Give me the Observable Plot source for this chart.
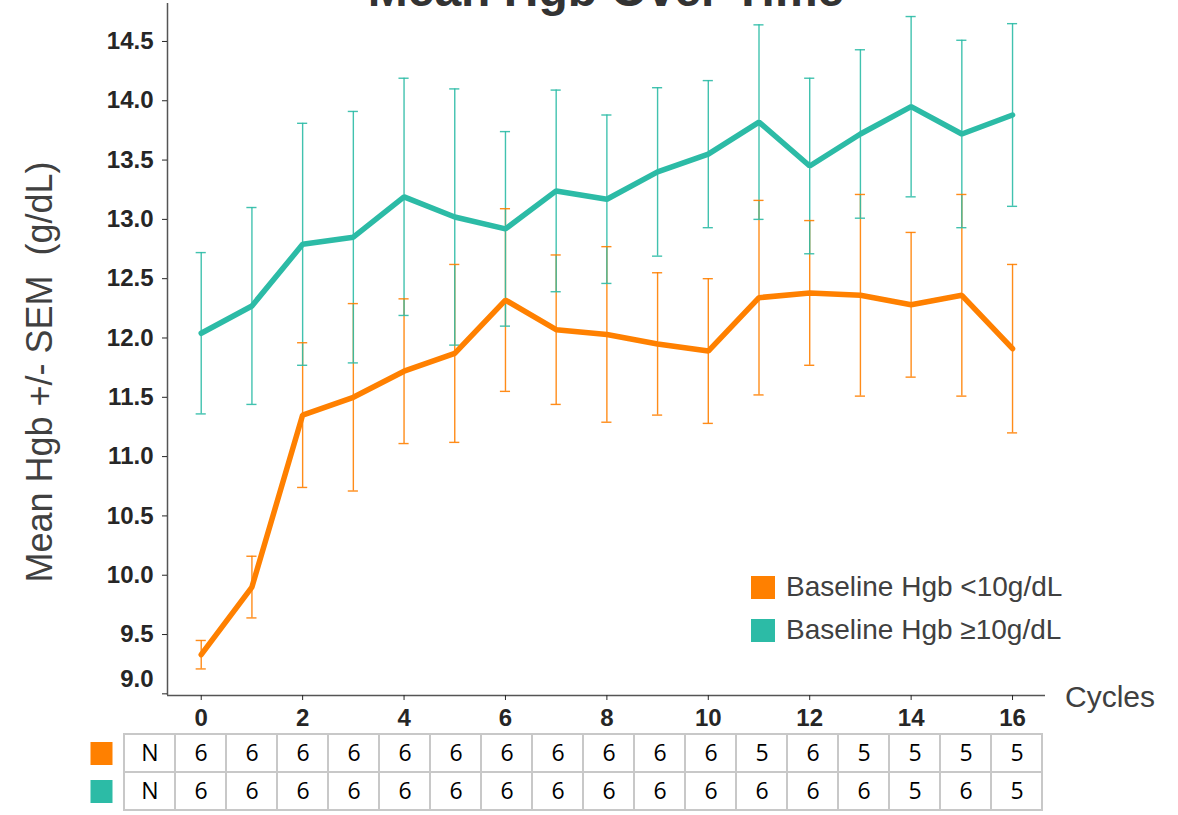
<!DOCTYPE html>
<html><head><meta charset="utf-8">
<script src="https://cdn.jsdelivr.net/npm/d3@7"></script>
<script src="https://cdn.jsdelivr.net/npm/@observablehq/plot@0.6"></script>
<style>
body{margin:0;background:#fff;}
#wrap{position:relative;width:1178px;height:815px;overflow:hidden;font-family:"Liberation Sans",Arial,sans-serif;}
#wrap svg{position:absolute;left:0;overflow:visible;}
#title{position:absolute;left:606px;top:-33.6px;transform:translateX(-50%);font-size:48px;line-height:48px;font-weight:bold;color:#333;white-space:nowrap;}
#ylabel{position:absolute;left:40px;top:372px;transform:translate(-50%,-50%) rotate(-90deg);font-size:36px;color:#404040;white-space:pre;}
#xlabel{position:absolute;left:1065px;top:682px;font-size:30px;line-height:30px;color:#404040;}
#legend{position:absolute;left:751px;top:575px;}
.lrow{display:flex;align-items:center;height:24px;margin-bottom:19px;}
.lsw{width:24px;height:23px;margin-right:11px;}
.ltx{font-size:28px;color:#404040;white-space:nowrap;}
</style></head><body><div id="wrap"></div>
<script>
// ---- data ----
const cycles = [0,1,2,3,4,5,6,7,8,9,10,11,12,13,14,15,16];
const seriesNames = ["Baseline Hgb <10g/dL", "Baseline Hgb \u226510g/dL"];
const seriesColors = ["#FF8000", "#2CBBA6"];
const lowMean  = [9.33, 9.90, 11.35, 11.50, 11.72, 11.87, 12.32, 12.07, 12.03, 11.95, 11.89, 12.34, 12.38, 12.36, 12.28, 12.36, 11.91];
const lowSem   = [0.12, 0.26, 0.61, 0.79, 0.61, 0.75, 0.77, 0.63, 0.74, 0.60, 0.61, 0.82, 0.61, 0.85, 0.61, 0.85, 0.71];
const highMean = [12.04, 12.27, 12.79, 12.85, 13.19, 13.02, 12.92, 13.24, 13.17, 13.40, 13.55, 13.82, 13.45, 13.72, 13.95, 13.72, 13.88];
const highSem  = [0.68, 0.83, 1.02, 1.06, 1.00, 1.08, 0.82, 0.85, 0.71, 0.71, 0.62, 0.82, 0.74, 0.71, 0.76, 0.79, 0.77];
const nLow  = [6,6,6,6,6,6,6,6,6,6,6,5,6,5,5,5,5];
const nHigh = [6,6,6,6,6,6,6,6,6,6,6,6,6,6,5,6,5];
const yTicks = [9.0, 9.5, 10.0, 10.5, 11.0, 11.5, 12.0, 12.5, 13.0, 13.5, 14.0, 14.5];
const xTicks = [0, 2, 4, 6, 8, 10, 12, 14, 16];
const title = "Mean Hgb Over Time";
const yLabel = "Mean Hgb +/- SEM  (g/dL)";
const xLabel = "Cycles";
const nLabel = "N";

// ---- build ----
const means = [lowMean, highMean], sems = [lowSem, highSem], ns = [nLow, nHigh];
const rows = [];
seriesNames.forEach((s, k) => cycles.forEach((c, i) => rows.push({series: s, cycle: c, mean: means[k][i], sem: sems[k][i]})));

const xDomain = [-0.665, 16.65];
const yDomain = [8.986, 14.82];
const capHalf = 0.1;
const font = "'Liberation Sans', Arial, sans-serif";
const colorScale = {domain: seriesNames, range: seriesColors};

const wrap = document.getElementById("wrap");

const main = Plot.plot({
  width: 1178, height: 732,
  marginLeft: 167, marginRight: 133, marginTop: 3, marginBottom: 37,
  x: {domain: xDomain},
  y: {domain: yDomain},
  color: colorScale,
  style: {fontFamily: font, color: "#262626", background: "transparent"},
  marks: [
    Plot.ruleX(rows, {x: "cycle", y1: d => d.mean - d.sem, y2: d => d.mean + d.sem, stroke: "series", strokeWidth: 1.4, strokeOpacity: 0.9}),
    Plot.ruleY(rows, {y: d => d.mean + d.sem, x1: d => d.cycle - capHalf, x2: d => d.cycle + capHalf, stroke: "series", strokeWidth: 1.4, strokeOpacity: 0.9}),
    Plot.ruleY(rows, {y: d => d.mean - d.sem, x1: d => d.cycle - capHalf, x2: d => d.cycle + capHalf, stroke: "series", strokeWidth: 1.4, strokeOpacity: 0.9}),
    Plot.line(rows, {x: "cycle", y: "mean", z: "series", stroke: "series", strokeWidth: 5.5, strokeLinejoin: "miter"}),
    Plot.ruleX([xDomain[0]], {stroke: "#555", strokeWidth: 1.5}),
    Plot.ruleY([yDomain[0]], {stroke: "#555", strokeWidth: 1.5}),
    Plot.axisY(yTicks, {tickSize: 5, tickPadding: 9, fontSize: 24, fontWeight: "bold", label: null,
      tickFormat: d => d === yTicks[0] ? "" : d3.format(".1f")(d)}),
    Plot.text([yTicks[0]], {y: d => d, text: d => d3.format(".1f")(d), frameAnchor: "left", textAnchor: "end",
      dx: -14, dy: -15, fontSize: 24, fontWeight: "bold", fill: "#262626"}),
    Plot.axisX(xTicks, {tickSize: 5, tickPadding: 8, fontSize: 24, fontWeight: "bold", label: null})
  ]
});
main.style.top = "0px";
wrap.appendChild(main);

// ---- N table ----
const cols = ["swatch", "N", ...cycles.map(String)];
const cells = [];
seriesNames.forEach((s, k) => {
  cells.push({series: s, col: "N", label: nLabel});
  cycles.forEach((c, i) => cells.push({series: s, col: String(c), label: String(ns[k][i])}));
});
const table = Plot.plot({
  width: 1178, height: 83,
  marginLeft: 70.5, marginRight: 1178 - 1043.5, marginTop: 1.3, marginBottom: 4.3,
  x: {type: "band", domain: cols, padding: 0, axis: null},
  y: {type: "band", domain: seriesNames, padding: 0, axis: null},
  color: colorScale,
  style: {background: "transparent"},
  marks: [
    Plot.cell(cells, {x: "col", y: "series", fill: "white", stroke: "#c8c8c8", strokeWidth: 2}),
    Plot.text(cells, {x: "col", y: "series", text: "label", fontSize: 23, fontFamily: "'Open Sans', sans-serif", fill: "#000"}),
    Plot.cell(seriesNames, {x: () => "swatch", y: d => d, fill: d => d, insetLeft: 17.5, insetRight: 11.5, insetTop: 8, insetBottom: 7})
  ]
});
table.style.top = "732px";
wrap.appendChild(table);

// ---- text & legend ----
function addDiv(id, text) { const d = document.createElement("div"); d.id = id; d.textContent = text; wrap.appendChild(d); return d; }
addDiv("title", title);
addDiv("ylabel", yLabel);
addDiv("xlabel", xLabel);
const leg = document.createElement("div"); leg.id = "legend";
seriesNames.forEach((s, k) => {
  const r = document.createElement("div"); r.className = "lrow";
  const sw = document.createElement("div"); sw.className = "lsw"; sw.style.background = seriesColors[k];
  const t = document.createElement("div"); t.className = "ltx"; t.textContent = s;
  r.appendChild(sw); r.appendChild(t); leg.appendChild(r);
});
wrap.appendChild(leg);
</script>
</body></html>
